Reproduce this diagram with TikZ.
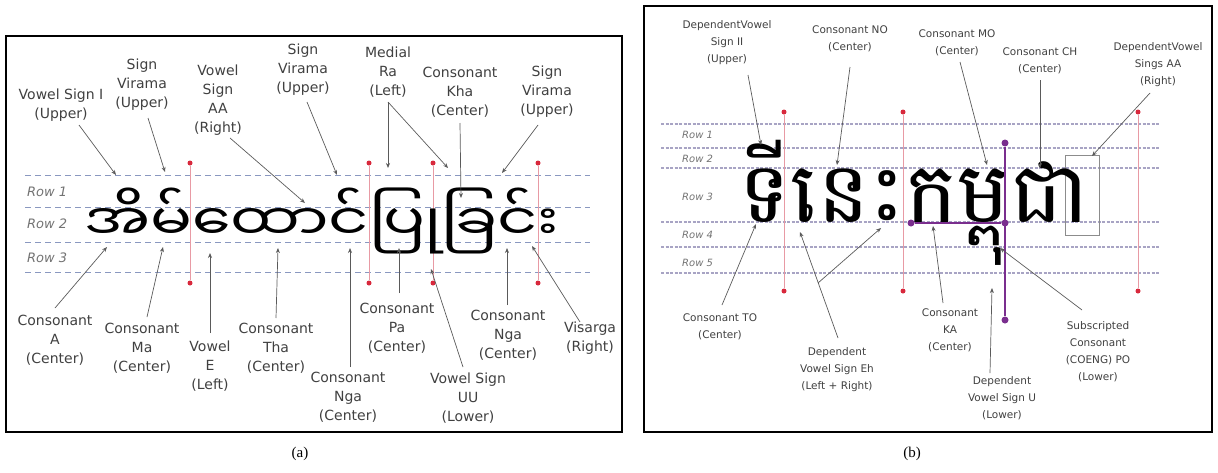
\documentclass[tikz,border=0pt]{standalone}
\usepackage{fontspec}
\setmainfont{DejaVu Sans}
\newfontfamily\myafont[Script=Myanmar]{Noto Sans Myanmar UI}
\newfontfamily\khmfont[Script=Khmer]{Battambang}
\newfontfamily\capfont{Liberation Serif}
\usetikzlibrary{arrows.meta}
\definecolor{lblgray}{HTML}{404040}
\definecolor{arrgray}{HTML}{5A5A5A}
\definecolor{rowblue}{HTML}{8A98C0}
\definecolor{rowviolet}{HTML}{A8A4C4}
\definecolor{guidered}{HTML}{E89AA4}
\definecolor{dotred}{HTML}{D8283C}
\definecolor{purp}{HTML}{7A2E8E}
\tikzset{
  lbla/.style={align=center, font=\fontsize{14}{19}\selectfont, text=lblgray, inner sep=0pt},
  lblb/.style={align=center, font=\fontsize{10.5}{17}\selectfont, text=lblgray, inner sep=0pt},
  rowlbla/.style={anchor=west, font=\fontsize{13}{13}\selectfont\itshape, text=black!55, inner sep=0pt},
  rowlblb/.style={anchor=west, font=\fontsize{10}{10}\selectfont\itshape, text=black!55, inner sep=0pt},
  arr/.style={draw=arrgray, line width=0.7pt, -{Stealth[length=5pt,width=4pt]}},
  rowa/.style={draw=rowblue, line width=1pt, dash pattern=on 6pt off 4pt},
  rowb/.style={draw=rowviolet, line width=1.1pt, dash pattern=on 3pt off 1.5pt},
  guide/.style={draw=guidered, line width=1pt},
  reddot/.style={circle, fill=dotred, inner sep=0pt, minimum size=5pt},
  purpln/.style={draw=purp, line width=2.2pt},
  purpdot/.style={circle, fill=purp, inner sep=0pt, minimum size=7pt},
  frame/.style={draw=black, line width=1.6pt},
  caption/.style={font=\capfont\fontsize{15}{15}\selectfont, inner sep=0pt}
}
\begin{document}
\begin{tikzpicture}[x=1pt,y=-1pt]
\useasboundingbox (0,0) rectangle (1218,472);
% ---------------- panel (a) ----------------
\draw[frame] (6,36) rectangle (622,432);
\foreach \yy in {175,207,242,272} \draw[rowa] (25,\yy) -- (590,\yy);
\node[rowlbla] (ra1) at (27,192) {Row 1};
\node[rowlbla] (ra2) at (27,224) {Row 2};
\node[rowlbla] (ra3) at (27,258) {Row 3};
\foreach \xx/\nm in {190/ga1,369/ga2,433/ga3,538/ga4}{
  \node[reddot] (\nm t) at (\xx,163) {};
  \node[reddot] (\nm b) at (\xx,283) {};
  \draw[guide] (\nm t) -- (\nm b);
}
\node[anchor=base west, inner sep=0pt] (mytxt) at (84,240) {\scalebox{1.24}[1]{\myafont\fontsize{50}{50}\selectfont အိမ်ထောင်ပြုခြင်း}};
% labels top
\node[lbla] (lI) at (61,105) {Vowel Sign I\\(Upper)};
\node[lbla] (lV1) at (142,85) {Sign\\Virama\\(Upper)};
\node[lbla] (lAA) at (218,100) {Vowel\\Sign\\AA\\(Right)};
\node[lbla] (lV2) at (303,70) {Sign\\Virama\\(Upper)};
\node[lbla] (lRa) at (388,72) {Medial\\Ra\\(Left)};
\node[lbla] (lKha) at (460,92) {Consonant\\Kha\\(Center)};
\node[lbla] (lV3) at (547,92) {Sign\\Virama\\(Upper)};
% labels bottom
\node[lbla] (lA) at (55,340) {Consonant\\A\\(Center)};
\node[lbla] (lMa) at (142,348) {Consonant\\Ma\\(Center)};
\node[lbla] (lE) at (210,366) {Vowel\\E\\(Left)};
\node[lbla] (lTha) at (276,348) {Consonant\\Tha\\(Center)};
\node[lbla] (lNga1) at (348,397) {Consonant\\Nga\\(Center)};
\node[lbla] (lPa) at (397,328) {Consonant\\Pa\\(Center)};
\node[lbla] (lUU) at (468,398) {Vowel Sign\\UU\\(Lower)};
\node[lbla] (lNga2) at (508,335) {Consonant\\Nga\\(Center)};
\node[lbla] (lVis) at (590,338) {Visarga\\(Right)};
% connector ends
\coordinate (sI) at (79,125);   \coordinate (tI) at (116,175);
\coordinate (sV1) at (148,118); \coordinate (tV1) at (165,172);
\coordinate (sAA) at (230,138); \coordinate (tAA) at (305,203);
\coordinate (sV2) at (307,102); \coordinate (tV2) at (337,175);
\coordinate (sRa) at (388,102); \coordinate (tRa1) at (388,168); \coordinate (tRa2) at (448,168);
\coordinate (sKha) at (460,123); \coordinate (tKha) at (461,198);
\coordinate (sV3) at (538,125); \coordinate (tV3) at (502,173);
\coordinate (sA) at (55,308);   \coordinate (tA) at (107,247);
\coordinate (sMa) at (147,317); \coordinate (tMa) at (163,247);
\coordinate (sE) at (210,333);  \coordinate (tE) at (210,253);
\coordinate (sTha) at (276,318); \coordinate (tTha) at (278,248);
\coordinate (sNga1) at (350,367); \coordinate (tNga1) at (350,248);
\coordinate (sPa) at (399,293); \coordinate (tPa) at (399,248);
\coordinate (sUU) at (463,367); \coordinate (tUU) at (431,269);
\coordinate (sNga2) at (507,305); \coordinate (tNga2) at (507,248);
\coordinate (sVis) at (580,322); \coordinate (tVis) at (532,246);
\foreach \k in {I,V1,AA,V2,Kha,V3,A,Ma,E,Tha,Nga1,Pa,UU,Nga2,Vis}
  \draw[arr] (s\k) -- (t\k);
\draw[arr] (sRa) -- (tRa1);
\draw[arr] (sRa) -- (tRa2);
\node[caption] (capa) at (300,454) {(a)};
% ---------------- panel (b) ----------------
\draw[frame] (644,6) rectangle (1212,432);
\foreach \yy in {124,148,168,222,247,273} \draw[rowb] (661,\yy) -- (1159,\yy);
\node[rowlblb] (rb1) at (682,135) {Row 1};
\node[rowlblb] (rb2) at (682,159) {Row 2};
\node[rowlblb] (rb3) at (682,197) {Row 3};
\node[rowlblb] (rb4) at (682,235) {Row 4};
\node[rowlblb] (rb5) at (682,263) {Row 5};
\foreach \xx/\nm in {784/gb1,903/gb2,1138/gb3}{
  \node[reddot] (\nm t) at (\xx,112) {};
  \node[reddot] (\nm b) at (\xx,291) {};
  \draw[guide, line width=0.8pt] (\nm t) -- (\nm b);
}
\node[draw=black!45, line width=1pt, minimum width=34pt, minimum height=80pt, inner sep=0pt] (aabox) at (1082,195) {};
\node[anchor=base west, inner sep=0pt] (kmtxt) at (738,222) {\scalebox{1.05}[1]{\khmfont\fontsize{84}{84}\selectfont ទីនេះកម្ពុជា}};
\node[purpdot] (pv1) at (1005,143) {};
\node[purpdot] (pv2) at (1005,320) {};
\node[purpdot] (ph1) at (911,223) {};
\node[purpdot] (ph2) at (1005,223) {};
\draw[purpln] (pv1) -- (pv2);
\draw[purpln] (ph1) -- (ph2);
% labels
\node[lblb] (lII) at (727,43) {DependentVowel\\Sign II\\(Upper)};
\node[lblb] (lNO) at (850,39) {Consonant NO\\(Center)};
\node[lblb] (lMO) at (957,43) {Consonant MO\\(Center)};
\node[lblb] (lCH) at (1040,61) {Consonant CH\\(Center)};
\node[lblb] (lAAb) at (1158,65) {DependentVowel\\Sings AA\\(Right)};
\node[lblb] (lTO) at (720,327) {Consonant TO\\(Center)};
\node[lblb] (lEh) at (837,370) {Dependent\\Vowel Sign Eh\\(Left + Right)};
\node[lblb] (lKA) at (950,330) {Consonant\\KA\\(Center)};
\node[lblb] (lU) at (1002,398) {Dependent\\Vowel Sign U\\(Lower)};
\node[lblb] (lPO) at (1098,352) {Subscripted\\Consonant\\(COENG) PO\\(Lower)};
\coordinate (sII) at (748,75);   \coordinate (tII) at (761,145);
\coordinate (sNO) at (850,67);   \coordinate (tNO) at (837,165);
\coordinate (sMO) at (960,62);   \coordinate (tMO) at (987,165);
\coordinate (sCH) at (1040,80);  \coordinate (tCH) at (1040,168);
\coordinate (sAAb) at (1150,93); \coordinate (tAAb) at (1092,156);
\coordinate (sTO) at (722,305);  \coordinate (tTO) at (756,224);
\coordinate (sEh) at (838,338);  \coordinate (tEh1) at (800,232);
\coordinate (bEh) at (818,283);  \coordinate (tEh2) at (881,228);
\coordinate (sKA) at (943,303);  \coordinate (tKA) at (933,226);
\coordinate (sU) at (990,373);   \coordinate (tU) at (992,288);
\coordinate (sPO) at (1082,310); \coordinate (tPO) at (1000,248);
\foreach \k in {II,NO,MO,CH,AAb,TO,KA,U,PO}
  \draw[arr] (s\k) -- (t\k);
\draw[arr] (sEh) -- (tEh1);
\draw[arr] (bEh) -- (tEh2);
\node[caption] (capb) at (912,454) {(b)};
\end{tikzpicture}
\end{document}
